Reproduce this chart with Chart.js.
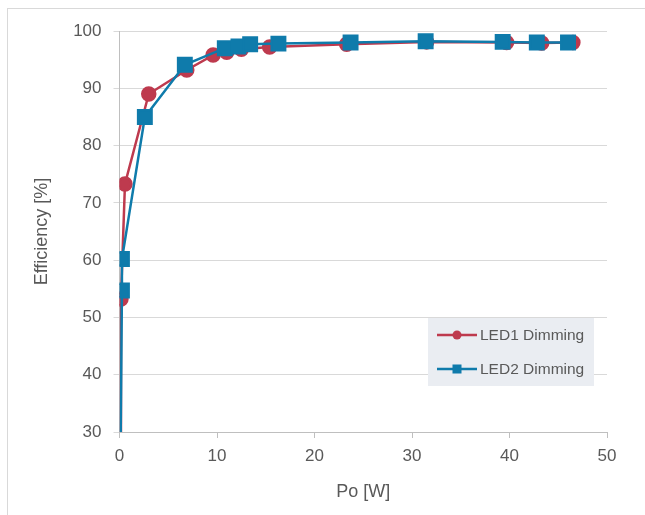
<!DOCTYPE html>
<html>
<head>
<meta charset="utf-8">
<script src="https://cdn.jsdelivr.net/npm/chart.js@4"></script>
<style>
  body { margin: 0; background: #fff; }
  #wrap { position: relative; width: 645px; height: 515px; }
  #frame { position: absolute; left: 7px; top: 8px; right: 0; bottom: 0;
           border-top: 1px solid #d9d9d9; border-left: 1px solid #d9d9d9; }
  canvas { position: absolute; left: 0; top: 0; }
</style>
</head>
<body>
<div id="wrap">
  <div id="frame"></div>
  <canvas id="chart" width="645" height="515"></canvas>
</div>
<script>
const led1Po = [0.1, 0.15, 0.56, 3.0, 6.9, 9.6, 11.0, 12.5, 15.4, 23.3, 31.5, 39.7, 43.3, 46.5];
const led1Eff = [25, 53.2, 73.3, 89.0, 93.2, 95.8, 96.3, 96.8, 97.2, 97.7, 98.1, 98.0, 97.9, 98.0];
const led2Po = [0.1, 0.25, 0.25, 2.6, 6.7, 10.8, 12.2, 13.4, 16.3, 23.7, 31.4, 39.3, 42.8, 46.0];
const led2Eff = [25, 54.7, 60.2, 85.0, 94.1, 97.0, 97.3, 97.7, 97.8, 98.0, 98.2, 98.1, 98.0, 98.0];
const xTicks = [0, 10, 20, 30, 40, 50];
const yTicks = [30, 40, 50, 60, 70, 80, 90, 100];

const red = '#be3a4e';
const blue = '#0f7bab';
const textColor = '#595959';
const fontFamily = '"Liberation Sans", Arial, sans-serif';

function toPoints(xs, ys) {
    return xs.map((x, i) => ({ x: x, y: ys[i] }));
}

// legend box drawn inside the plot
const boxLegend = {
    id: 'boxLegend',
    afterDraw(chart) {
        const ctx = chart.ctx;
        const x0 = 428, y0 = 318, w = 166, h = 68;
        ctx.save();
        ctx.fillStyle = '#eaedf2';
        ctx.fillRect(x0, y0, w, h);
        const rows = [
            { label: 'LED1 Dimming', color: red, style: 'circle', y: 335 },
            { label: 'LED2 Dimming', color: blue, style: 'rect', y: 369 }
        ];
        rows.forEach(r => {
            ctx.strokeStyle = r.color;
            ctx.lineWidth = 2.5;
            ctx.beginPath();
            ctx.moveTo(437, r.y);
            ctx.lineTo(477, r.y);
            ctx.stroke();
            ctx.fillStyle = r.color;
            if (r.style === 'circle') {
                ctx.beginPath();
                ctx.arc(457, r.y, 4.5, 0, Math.PI * 2);
                ctx.fill();
            } else {
                ctx.fillRect(452.5, r.y - 4.5, 9, 9);
            }
            ctx.fillStyle = textColor;
            ctx.font = '15.5px ' + fontFamily;
            ctx.textBaseline = 'middle';
            ctx.textAlign = 'left';
            ctx.fillText(r.label, 480, r.y + 1);
        });
        ctx.restore();
    }
};

const ctx = document.getElementById('chart').getContext('2d');
new Chart(ctx, {
    type: 'scatter',
    data: {
        datasets: [{
            label: 'LED1 Dimming',
            data: toPoints(led1Po, led1Eff),
            showLine: true,
            borderColor: red,
            backgroundColor: red,
            borderWidth: 2.5,
            pointStyle: 'circle',
            pointRadius: 6.5,
            pointHoverRadius: 6.5,
            order: 1
        }, {
            label: 'LED2 Dimming',
            data: toPoints(led2Po, led2Eff),
            showLine: true,
            borderColor: blue,
            backgroundColor: blue,
            borderWidth: 2.5,
            pointStyle: 'rect',
            pointRadius: 9.5,
            pointHoverRadius: 9.5,
            order: 0
        }]
    },
    options: {
        responsive: false,
        animation: false,
        layout: {
            padding: { left: 0, top: 31, right: 38, bottom: 0 }
        },
        plugins: {
            legend: { display: false },
            tooltip: { enabled: false }
        },
        scales: {
            x: {
                type: 'linear',
                min: 0,
                max: 50,
                afterBuildTicks: (scale) => { scale.ticks = xTicks.map(v => ({ value: v })); },
                afterFit: (scale) => { scale.height = 83; },
                border: { color: '#bfbfbf', width: 1 },
                grid: {
                    drawOnChartArea: false,
                    drawTicks: true,
                    tickLength: 6,
                    color: '#bfbfbf'
                },
                ticks: {
                    color: textColor,
                    padding: 8,
                    font: { family: fontFamily, size: 17 }
                },
                title: {
                    display: true,
                    text: 'Po [W]',
                    color: textColor,
                    font: { family: fontFamily, size: 18 },
                    padding: { top: 4, bottom: 12 }
                }
            },
            y: {
                type: 'linear',
                min: 30,
                max: 100,
                afterBuildTicks: (scale) => { scale.ticks = yTicks.map(v => ({ value: v })); },
                afterFit: (scale) => { scale.width = 119.5; },
                border: { color: '#bfbfbf', width: 1 },
                grid: {
                    color: '#d9d9d9',
                    drawTicks: true,
                    tickLength: 6
                },
                ticks: {
                    color: textColor,
                    padding: 12,
                    font: { family: fontFamily, size: 17 }
                },
                title: {
                    display: true,
                    text: 'Efficiency [%]',
                    color: textColor,
                    font: { family: fontFamily, size: 18 },
                    padding: { top: 31 }
                }
            }
        }
    },
    plugins: [boxLegend]
});
</script>
</body>
</html>
